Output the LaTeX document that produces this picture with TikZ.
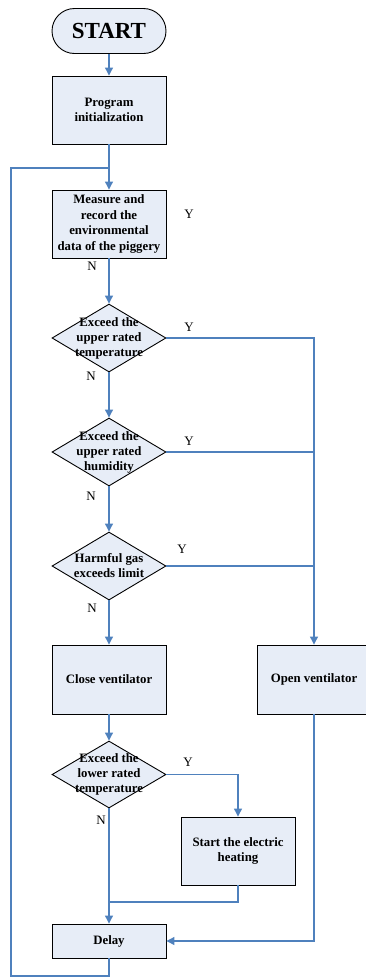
\documentclass[tikz,border=0pt]{standalone}
\usepackage{fontspec}
\setmainfont{Liberation Serif}
\usetikzlibrary{arrows.meta,shapes.geometric}
\definecolor{linec}{RGB}{79,129,189}
\definecolor{boxfill}{RGB}{231,237,247}
\tikzset{
  procbox/.style={draw=black,line width=0.9pt,fill=boxfill,minimum width=114pt,inner sep=0pt,align=center,font=\bfseries\fontsize{12.8}{15.5}\selectfont},
  decbox/.style={draw=black,line width=0.9pt,fill=boxfill,diamond,minimum width=114pt,minimum height=68pt,inner sep=0pt},
  dectext/.style={align=center,inner sep=0pt,font=\bfseries\fontsize{12.8}{15}\selectfont},
  conn/.style={draw=linec,line width=1.1pt},
  arr/.style={conn,-{Triangle[width=8pt,length=8pt]}},
  yn/.style={font=\fontsize{13}{15}\selectfont,inner sep=0pt}
}
\begin{document}
\begin{tikzpicture}[x=1pt,y=-1pt]
\useasboundingbox (0,0) rectangle (366,978);
\clip (0,0) rectangle (366,978);
\node[procbox,minimum height=45pt,rounded corners=22.5pt,font=\bfseries\fontsize{23}{25}\selectfont] (start) at (109,31) {START};
\node[procbox,minimum height=68pt] (init) at (109,110) {Program\\initialization};
\node[procbox,minimum height=68pt] (meas) at (109,224) {Measure and\\record the\\environmental\\data of the piggery};
\node[decbox] (d1) at (109,338) {};
\node[dectext] at (d1.center) {Exceed the\\upper rated\\temperature};
\node[decbox] (d2) at (109,452) {};
\node[dectext] at (d2.center) {Exceed the\\upper rated\\humidity};
\node[decbox] (d3) at (109,566) {};
\node[dectext] at (d3.center) {Harmful gas\\exceeds limit};
\node[procbox,minimum height=69pt] (close) at (109,679.5) {Close ventilator};
\node[procbox,minimum height=69pt] (open) at (314,679.5) {Open ventilator};
\node[decbox,minimum height=67pt] (d4) at (109,774.5) {};
\node[dectext] at (d4.center) {Exceed the\\lower rated\\temperature};
\node[procbox,minimum height=68pt] (heat) at (238,851) {Start the electric\\heating};
\node[procbox,minimum height=34pt] (delay) at (109,941) {Delay};

\coordinate (c1) at (314,338);
\coordinate (c2) at (314,452);
\coordinate (c3) at (314,566);
\coordinate (j1) at (109,902);
\coordinate (l1) at (109,976);
\coordinate (l2) at (11,976);
\coordinate (l3) at (11,168);
\coordinate (l4) at (109,168);

\draw[arr] (start) -- (init);
\draw[arr] (init) -- (meas);
\draw[arr] (meas) -- (d1);
\draw[arr] (d1) -- (d2);
\draw[arr] (d2) -- (d3);
\draw[arr] (d3) -- (close);
\draw[arr] (close) -- (d4);
\draw[arr] (d4) -- (delay);
\draw[arr] (d1.east) -- (c1) -- (open.north);
\draw[conn] (d2.east) -- (c2);
\draw[conn] (d3.east) -- (c3);
\draw[arr] (d4.east) -| (heat.north);
\draw[conn] (heat.south) |- (j1);
\draw[arr] (open.south) |- (delay.east);
\draw[conn] (delay.south) -- (l1) -- (l2) -- (l3) -- (l4);

\node[yn] at (189,214) {Y};
\node[yn] at (92,266) {N};
\node[yn] at (189,327) {Y};
\node[yn] at (91,376) {N};
\node[yn] at (189,441) {Y};
\node[yn] at (91,496) {N};
\node[yn] at (182,549) {Y};
\node[yn] at (92,608) {N};
\node[yn] at (188,762) {Y};
\node[yn] at (101,820) {N};
\end{tikzpicture}
\end{document}
